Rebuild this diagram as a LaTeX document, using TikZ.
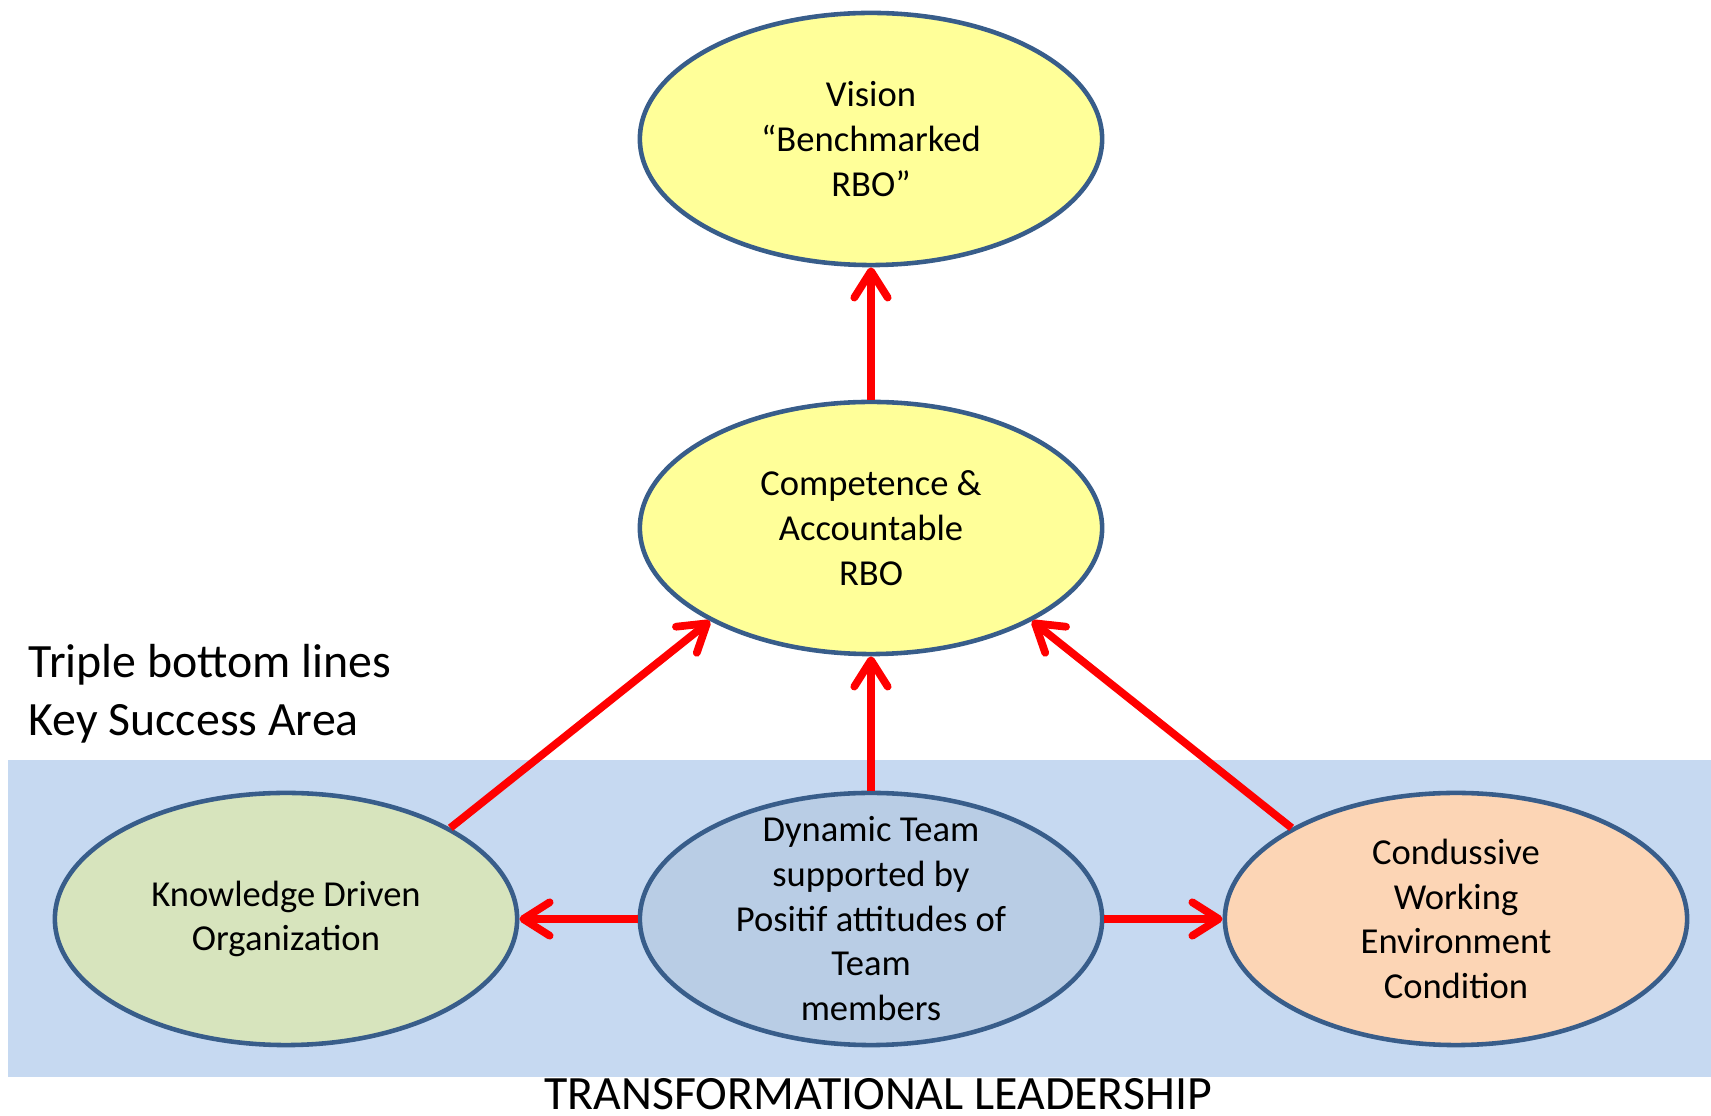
\documentclass[tikz,border=0pt]{standalone}
\usepackage{fontspec}
\setmainfont{Carlito}
\usetikzlibrary{arrows.meta,shapes.geometric}
\definecolor{edgeblue}{HTML}{385D8A}
\definecolor{ylw}{HTML}{FFFF99}
\definecolor{grn}{HTML}{D7E4BD}
\definecolor{dynblue}{HTML}{B9CDE5}
\definecolor{peach}{HTML}{FCD5B5}
\definecolor{bandblue}{HTML}{C6D9F1}
\definecolor{arrred}{HTML}{FF0000}
\newcommand{\flatlines}[1]{\raisebox{-3.4pt}[0pt][0pt]{\begin{tabular}{@{}c@{}}#1\end{tabular}}}
\tikzset{
  oval/.style={ellipse, draw=edgeblue, line width=1.3pt, minimum width=4.62cm, minimum height=2.52cm, inner sep=0pt, align=center, font=\fontsize{10.4}{12.7}\selectfont},
  link/.style={draw=arrred, line width=2.2pt, -{Straight Barb[length=7.5pt,width=9.5pt,round]}},
  bigtext/.style={font=\fontsize{13.6}{16.4}\selectfont, inner sep=0pt}
}
\begin{document}
\begin{tikzpicture}[x=0.01cm,y=-0.01cm]
\useasboundingbox (0,0) rectangle (1711,1116);
\fill[bandblue] (8,760) rectangle (1711,1077);
\node[oval, fill=ylw] (vision) at (871,139) {Vision\\“Benchmarked\\RBO”};
\node[oval, fill=ylw] (comp) at (871,528) {Competence \&\\Accountable\\RBO};
\node[oval, fill=grn] (kdo) at (286,919) {Knowledge Driven\\Organization};
\node[oval, fill=dynblue] (dyn) at (871,919) {\flatlines{Dynamic Team\\supported by\\Positif attitudes of\\Team\\members}};
\node[oval, fill=peach] (cond) at (1456,919) {Condussive\\Working\\Environment\\Condition};
\node[bigtext, anchor=west, align=left] (tbl) at (28,694) {Triple bottom lines\\Key Success Area};
\node[bigtext] (tl) at (878,1094) {TRANSFORMATIONAL LEADERSHIP};
\draw[link] (comp.north) -- (vision.south);
\draw[link] (dyn.north) -- (comp.south);
\draw[link] (kdo.29) -- (comp.210);
\draw[link] (cond.151) -- (comp.330);
\draw[link] (dyn.west) -- (kdo.east);
\draw[link] (dyn.east) -- (cond.west);
\end{tikzpicture}
\end{document}
